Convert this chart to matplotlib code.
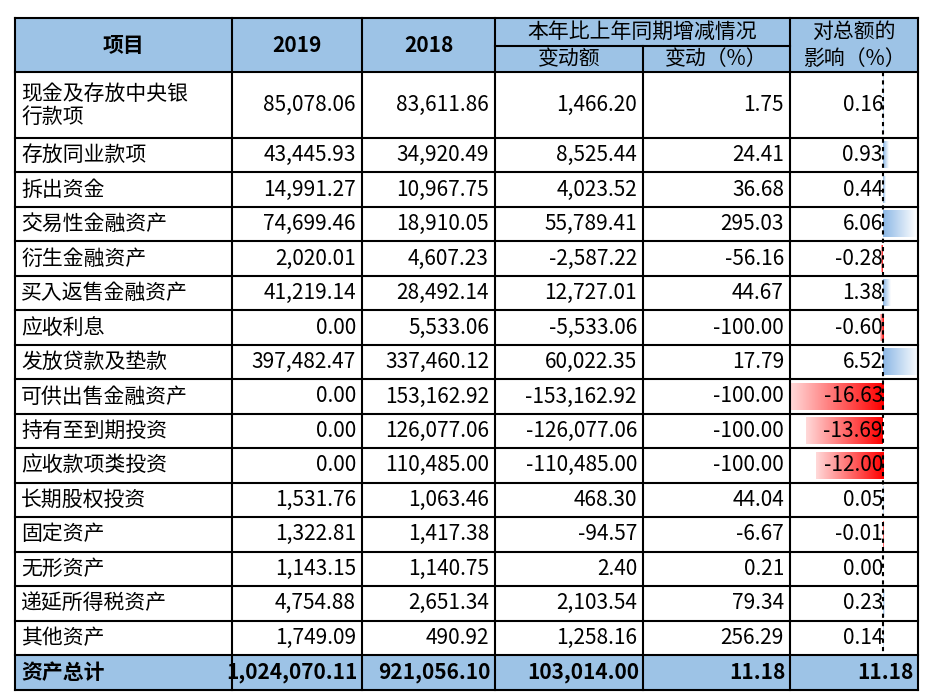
import numpy as np
import matplotlib.pyplot as plt
from matplotlib.patches import Rectangle

plt.rcParams['font.family'] = ['Noto Sans CJK SC', 'Noto Sans CJK JP', 'DejaVu Sans']

items = ['现金及存放中央银\n行款项', '存放同业款项', '拆出资金', '交易性金融资产', '衍生金融资产',
         '买入返售金融资产', '应收利息', '发放贷款及垫款', '可供出售金融资产', '持有至到期投资',
         '应收款项类投资', '长期股权投资', '固定资产', '无形资产', '递延所得税资产', '其他资产']
v2019 = ['85,078.06', '43,445.93', '14,991.27', '74,699.46', '2,020.01', '41,219.14', '0.00',
         '397,482.47', '0.00', '0.00', '0.00', '1,531.76', '1,322.81', '1,143.15', '4,754.88', '1,749.09']
v2018 = ['83,611.86', '34,920.49', '10,967.75', '18,910.05', '4,607.23', '28,492.14', '5,533.06',
         '337,460.12', '153,162.92', '126,077.06', '110,485.00', '1,063.46', '1,417.38', '1,140.75',
         '2,651.34', '490.92']
change = ['1,466.20', '8,525.44', '4,023.52', '55,789.41', '-2,587.22', '12,727.01', '-5,533.06',
          '60,022.35', '-153,162.92', '-126,077.06', '-110,485.00', '468.30', '-94.57', '2.40',
          '2,103.54', '1,258.16']
change_pct = ['1.75', '24.41', '36.68', '295.03', '-56.16', '44.67', '-100.00', '17.79', '-100.00',
              '-100.00', '-100.00', '44.04', '-6.67', '0.21', '79.34', '256.29']
impact = [0.16, 0.93, 0.44, 6.06, -0.28, 1.38, -0.60, 6.52, -16.63, -13.69, -12.00, 0.05, -0.01,
          0.00, 0.23, 0.14]
total = ['资产总计', '1,024,070.11', '921,056.10', '103,014.00', '11.18', '11.18']

W, H = 927, 696
fig = plt.figure(figsize=(W / 100, H / 100), dpi=100)
ax = fig.add_axes([0, 0, 1, 1])
ax.set_xlim(0, W)
ax.set_ylim(H, 0)
ax.axis('off')

fs = 15
hdr_color = '#9dc3e6'
xs = [15, 232, 362, 495, 643, 790, 918]
top, mid, hb = 18, 46, 72
row_edges = [hb, 138] + list(np.linspace(138, 655, 16)[1:]) + [690]

# header and total backgrounds
ax.add_patch(Rectangle((xs[0], top), xs[-1] - xs[0], hb - top, color=hdr_color, lw=0))
ax.add_patch(Rectangle((xs[0], row_edges[-2]), xs[-1] - xs[0], row_edges[-1] - row_edges[-2],
                       color=hdr_color, lw=0))

# header text
ax.text((xs[0] + xs[1]) / 2, (top + hb) / 2, '项目', ha='center', va='center', fontsize=fs, fontweight='bold')
ax.text((xs[1] + xs[2]) / 2, (top + hb) / 2, '2019', ha='center', va='center', fontsize=fs, fontweight='bold')
ax.text((xs[2] + xs[3]) / 2, (top + hb) / 2, '2018', ha='center', va='center', fontsize=fs, fontweight='bold')
ax.text((xs[3] + xs[5]) / 2, (top + mid) / 2, '本年比上年同期增减情况', ha='center', va='center', fontsize=fs)
ax.text((xs[3] + xs[4]) / 2, (mid + hb) / 2, '变动额', ha='center', va='center', fontsize=fs)
ax.text((xs[4] + xs[5]) / 2, (mid + hb) / 2, '变动（%）', ha='center', va='center', fontsize=fs)
ax.text((xs[5] + xs[6]) / 2, (top + mid) / 2, '对总额的', ha='center', va='center', fontsize=fs)
ax.text((xs[5] + xs[6]) / 2, (mid + hb) / 2, '影响（%）', ha='center', va='center', fontsize=fs)

# data bars in last column
zero_x = 883
scale = 5.6
red = np.ones((1, 64, 3))
red[0, :, 1] = red[0, :, 2] = np.linspace(0.85, 0.0, 64)
blue = np.ones((1, 64, 3))
blue[0, :, 0] = np.linspace(0.55, 1.0, 64)
blue[0, :, 1] = np.linspace(0.72, 1.0, 64)
blue[0, :, 2] = np.linspace(0.9, 1.0, 64)
for i, v in enumerate(impact):
    y0, y1 = row_edges[i] + 4, row_edges[i + 1] - 4
    if v < 0:
        ax.imshow(red, extent=(zero_x + v * scale, zero_x, y1, y0), aspect='auto', zorder=1)
    elif v > 0:
        ax.imshow(blue, extent=(zero_x, zero_x + v * scale, y1, y0), aspect='auto', zorder=1)
ax.plot([zero_x, zero_x], [hb, row_edges[-2]], color='black', ls=(0, (2, 2)), lw=1.5, zorder=3)
ax.set_xlim(0, W)
ax.set_ylim(H, 0)

# body text
for i in range(16):
    yc = (row_edges[i] + row_edges[i + 1]) / 2
    ax.text(xs[0] + 6, yc, items[i], ha='left', va='center', fontsize=fs, linespacing=1.05, zorder=4)
    ax.text(xs[2] - 6, yc, v2019[i], ha='right', va='center', fontsize=fs, zorder=4)
    ax.text(xs[3] - 6, yc, v2018[i], ha='right', va='center', fontsize=fs, zorder=4)
    ax.text(xs[4] - 6, yc, change[i], ha='right', va='center', fontsize=fs, zorder=4)
    ax.text(xs[5] - 6, yc, change_pct[i], ha='right', va='center', fontsize=fs, zorder=4)
    ax.text(zero_x, yc, '%.2f' % impact[i], ha='right', va='center', fontsize=fs, zorder=4)

yc = (row_edges[-2] + row_edges[-1]) / 2
ax.text(xs[0] + 6, yc, total[0], ha='left', va='center', fontsize=fs, fontweight='bold')
for j in range(1, 6):
    ax.text(xs[j + 1] - 4, yc, total[j], ha='right', va='center', fontsize=fs, fontweight='bold')

# grid lines
lw = 1.5
ax.plot([xs[0], xs[-1]], [top, top], color='black', lw=lw)
ax.plot([xs[3], xs[5]], [mid, mid], color='black', lw=lw)
for y in row_edges:
    ax.plot([xs[0], xs[-1]], [y, y], color='black', lw=lw, zorder=5)
for j, x in enumerate(xs):
    y_start = mid if j == 4 else top
    ax.plot([x, x], [y_start, row_edges[-1]], color='black', lw=lw, zorder=5)

fig.savefig('out.png', dpi=100)
